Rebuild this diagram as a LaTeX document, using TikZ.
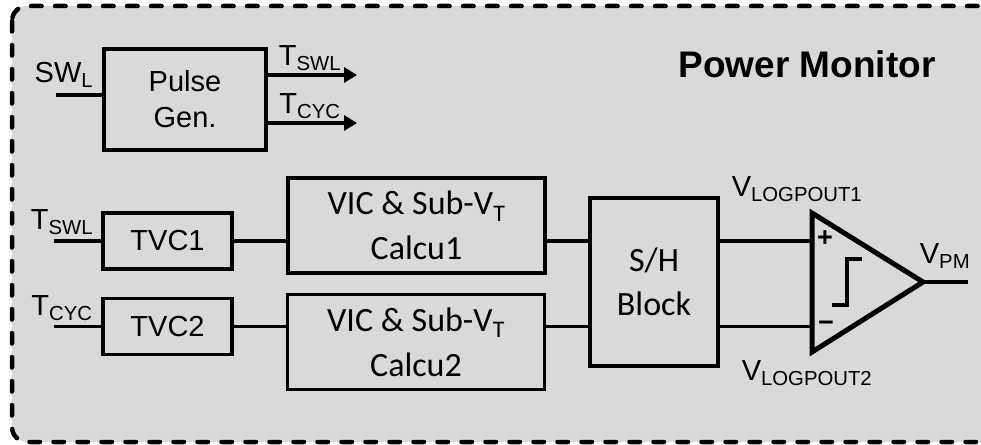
\documentclass[tikz,border=0pt]{standalone}
\usepackage{fontspec}
\setmainfont{Liberation Sans}
\newfontfamily\calibri{Carlito}
\usetikzlibrary{arrows.meta, positioning, calc}
\definecolor{panel}{RGB}{217,217,217}

\begin{document}
\begin{tikzpicture}[x=1pt, y=-1pt,
  every node/.style={font=\fontsize{29}{36}\selectfont},
  blk/.style={rectangle, draw, line width=3.5pt, fill=panel, align=center,
              inner sep=0pt},
  calcbox/.style={blk, minimum width=257pt, minimum height=95pt,
              font=\calibri\fontsize{34}{45}\selectfont},
  tvc/.style={blk, minimum width=129pt, minimum height=56pt},
  lbl/.style={inner sep=0pt},
  vlbl/.style={lbl, font=\fontsize{29}{32}\selectfont},
  wire/.style={line width=3.5pt},
  arr/.style={line width=3.5pt, -{Triangle[length=13pt, width=15pt]}},
]
\clip (0,0) rectangle (981,444);
\draw[fill=panel, line width=4.5pt, line cap=round, dash pattern=on 10.5pt off 13.5pt,
      rounded corners=15pt] (12,6) rectangle (1000,442);

\node[lbl, font=\bfseries\fontsize{37}{40}\selectfont] (title) at (807,64) {Power Monitor};

% pulse generator
\node[blk, minimum width=162pt, minimum height=101pt] (pulse) at (185,99.5) {Pulse\\Gen.};
\coordinate (swl) at (56,95);
\coordinate (tswlout) at (357,75);
\coordinate (tcycout) at (357,123);
\node[lbl] (swllbl) at (64,75) {SW\textsubscript{L}};
\node[lbl] (tswllbl) at (310,58) {T\textsubscript{SWL}};
\node[lbl] (tcyclbl) at (310,106) {T\textsubscript{CYC}};
\draw[wire] (swl) -- (swl -| pulse.west);
\draw[arr] (tswlout -| pulse.east) -- (tswlout);
\draw[arr] (tcycout -| pulse.east) -- (tcycout);

% TVC and calculators
\node[tvc] (tvc1) at (167.5,241) {TVC1};
\node[tvc] (tvc2) at (167.5,326.5) {TVC2};
\node[calcbox] (calc1) at (416.5,225.5) {VIC \& Sub-V\textsubscript{T}\\Calcu1};
\node[calcbox] (calc2) at (416,342) {VIC \& Sub-V\textsubscript{T}\\Calcu2};
\node[blk, minimum width=128pt, minimum height=168pt,
      font=\calibri\fontsize{34}{44}\selectfont] (shblk) at (654,282) {S/H\\Block};

\coordinate (tin1) at (54,241);
\coordinate (tin2) at (54,326.5);
\node[lbl] (tin1lbl) at (62,222) {T\textsubscript{SWL}};
\node[lbl] (tin2lbl) at (62,308) {T\textsubscript{CYC}};
\draw[wire] (tin1) -- (tvc1.west);  \draw[wire] (tin2) -- (tvc2.west);
\draw[wire] (tvc1.east) -- (tvc1.east -| calc1.west);
\draw[wire] (tvc2.east) -- (tvc2.east -| calc2.west);
\draw[wire] (calc1.east |- tvc1.east) -- (tvc1.east -| shblk.west);
\draw[wire] (calc2.east |- tvc2.east) -- (tvc2.east -| shblk.west);

% comparator
\coordinate (cmptop) at (812,213);
\coordinate (cmpbot) at (812,352);
\coordinate (cmptip) at (923,282);
\coordinate (vpm) at (968,282);
\draw[line width=5pt, fill=panel] (cmptop) -- (cmptip) -- (cmpbot) -- cycle;
\draw[wire] (shblk.east |- tvc1.east) -- (tvc1.east -| cmptop);
\draw[wire] (shblk.east |- tvc2.east) -- (tvc2.east -| cmptop);
\draw[wire] (cmptip) -- (vpm);
\node[lbl, font=\bfseries\fontsize{27}{27}\selectfont] (plus) at (825,239) {+};
\node[lbl, font=\bfseries\fontsize{27}{27}\selectfont] (minus) at (826,326) {\char"2212};
\draw[line width=4pt] (832,305) -- (847,305) -- (847,259) -- (862,259);
\node[vlbl] (vlog1) at (797,189) {V\textsubscript{LOGPOUT1}};
\node[vlbl] (vlog2) at (807,373) {V\textsubscript{LOGPOUT2}};
\node[lbl] (vpmlbl) at (945,256) {V\textsubscript{PM}};
\end{tikzpicture}
\end{document}
